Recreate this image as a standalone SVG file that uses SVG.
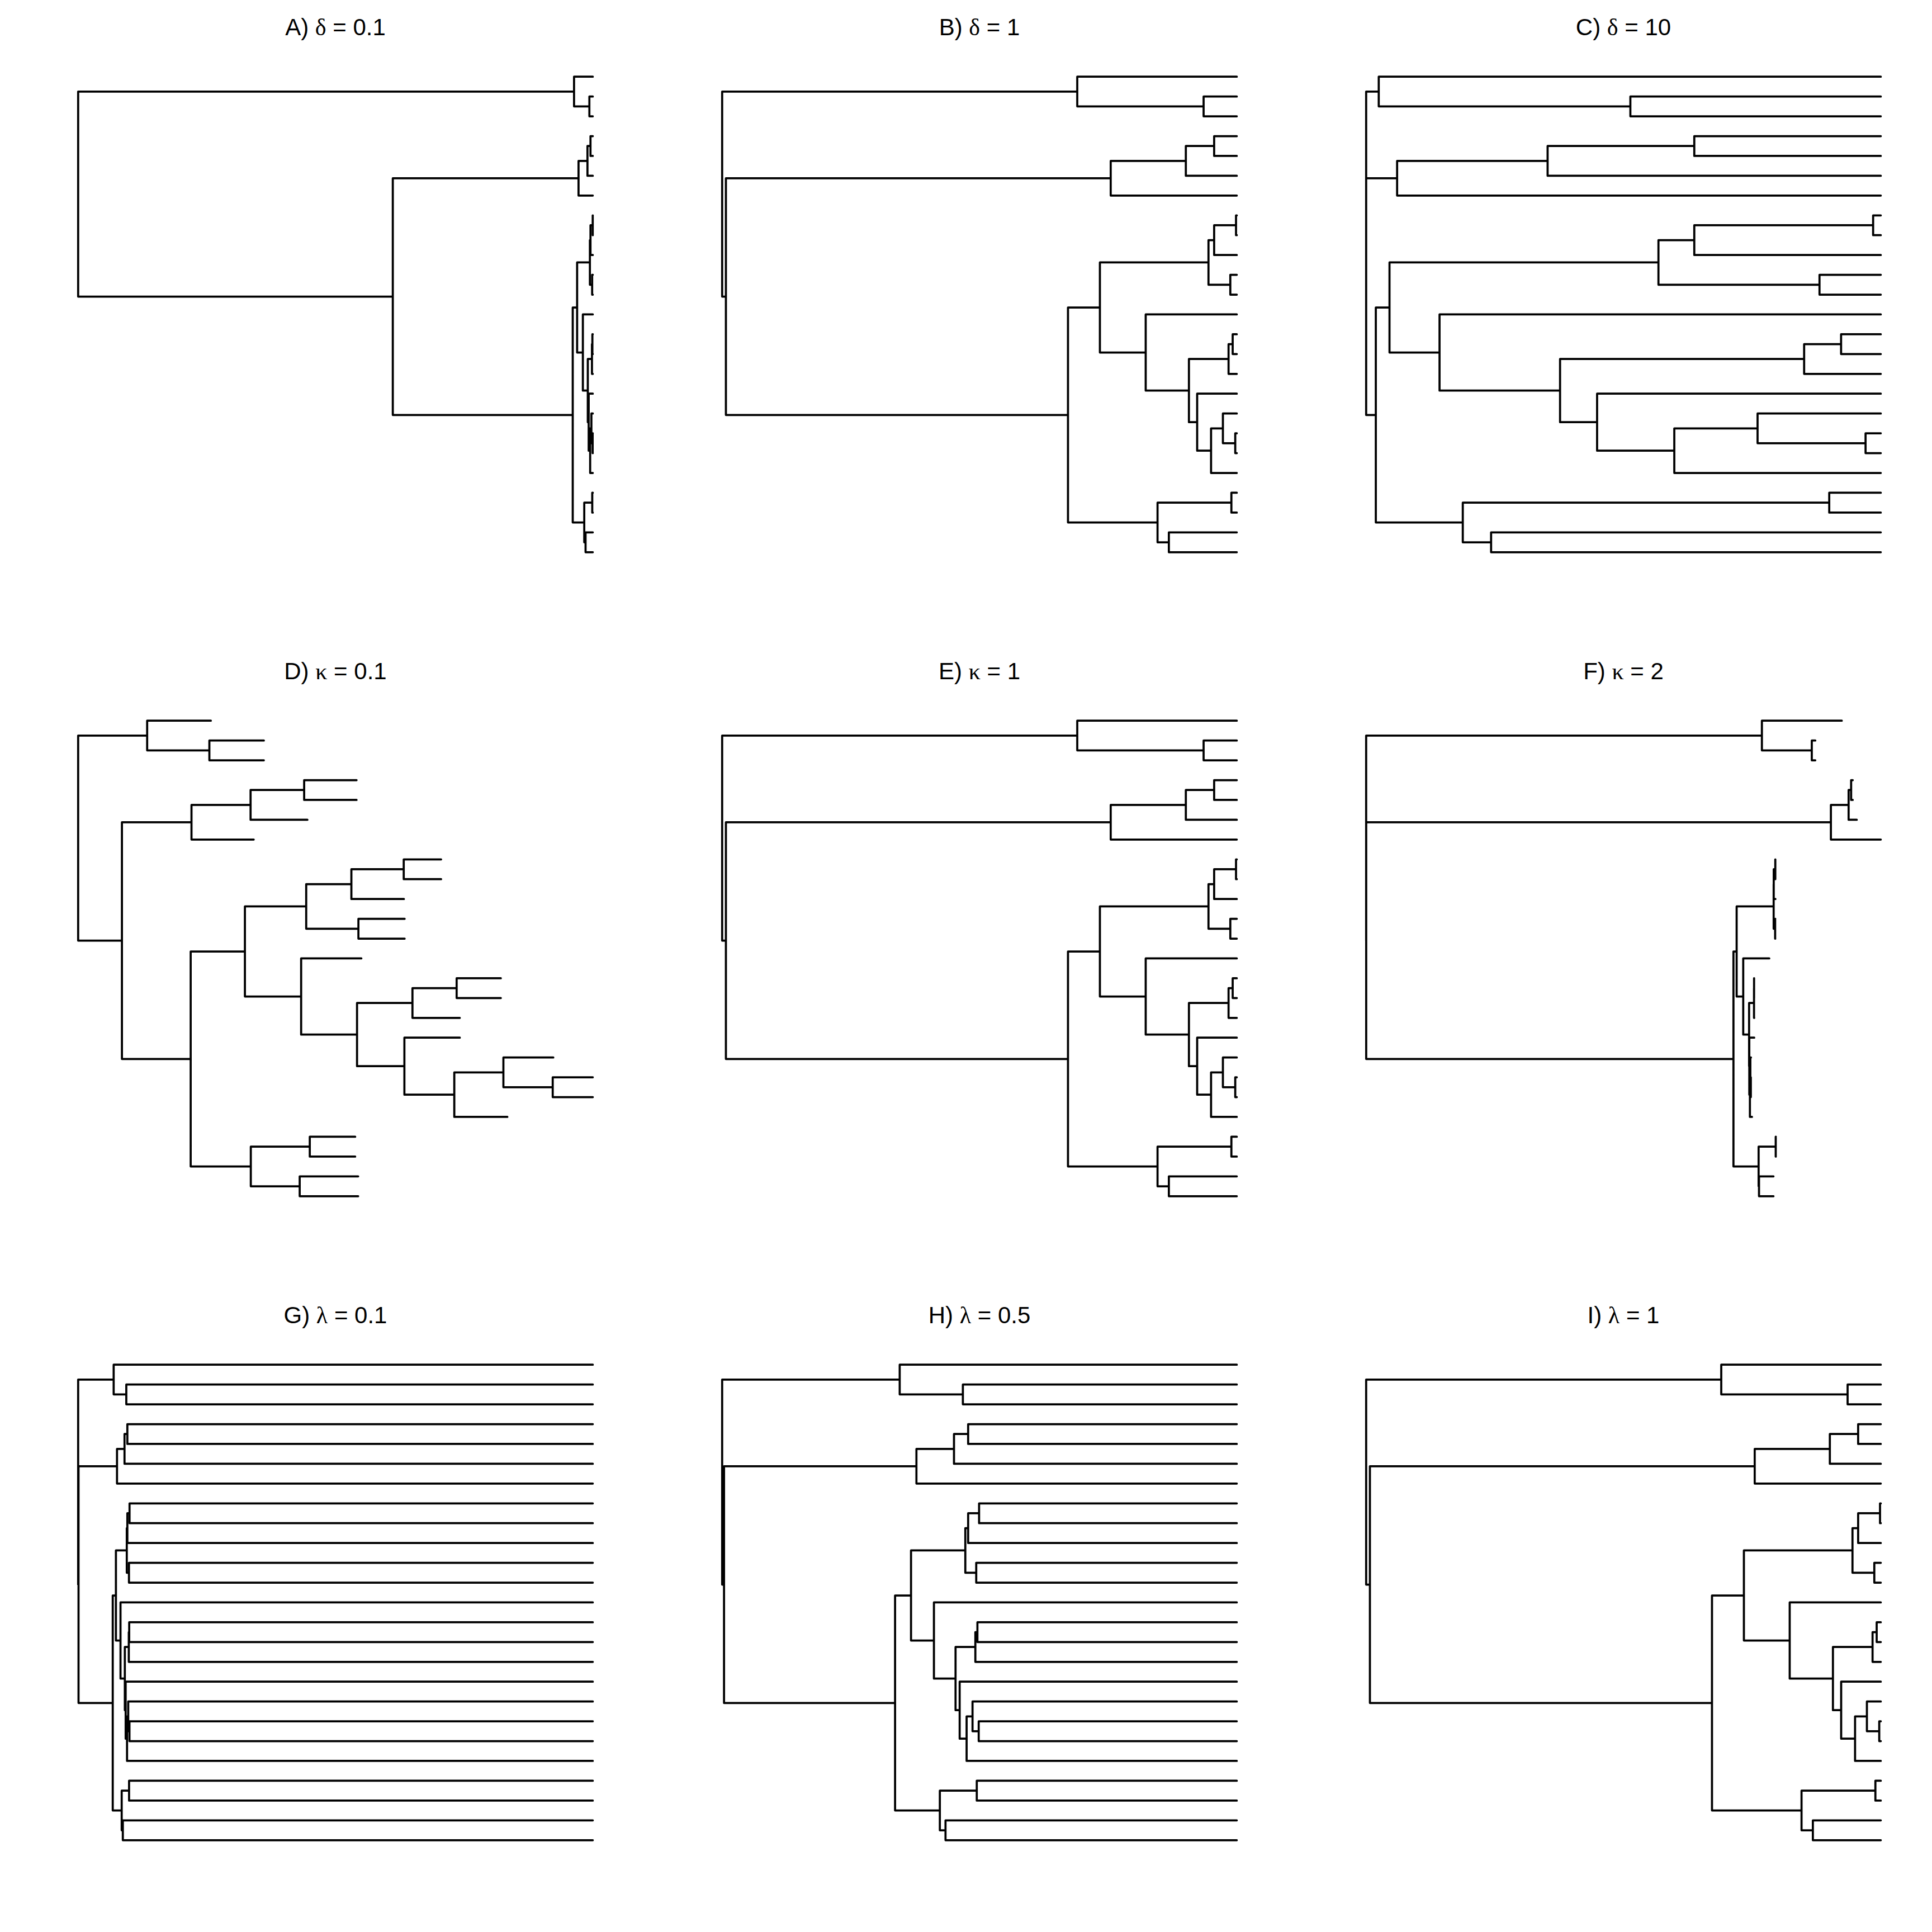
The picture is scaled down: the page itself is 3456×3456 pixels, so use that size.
<svg xmlns="http://www.w3.org/2000/svg" xmlns:xlink="http://www.w3.org/1999/xlink" width="3456" height="3456" viewBox="0 0 3456 3456">
<style>
.t{font-family:"Liberation Sans",Arial,sans-serif;font-size:42px;fill:#000;text-anchor:middle}
.g{font-family:"Liberation Serif","Times New Roman",serif}
.tree{fill:none;stroke:#000;stroke-width:3.75;stroke-linecap:round;stroke-linejoin:round;vector-effect:non-scaling-stroke}
</style>
<defs>
<path id="orig" class="tree" d="M.690 .75H0V11.0996H.0073M.755 5.125H.0073V17.0742H.672M1 0H.69V1.5H.9355M1 1H.9355V2H1M.901 4.25H.755V6H1M.956 3.5H.901V5H1M1 3H.956V4H1M.734 11.6484H.672V22.5H.846M.945 9.375H.734V13.9219H.823M.956 8.25H.945V10.5H.9874M.9985 7.5H.956V9H1M1 7H.9985V8H1M1 10H.9874V11H1M1 12H.823V15.8438H.907M.984 14.25H.907V17.4375H.923M.992 13.5H.984V15H1M1 13H.992V14H1M1 16H.923V18.875H.95M.973 17.75H.95V20H1M1 17H.973V18.5H.997M1 18H.997V19H1M.9895 21.5H.846V23.5H.868M1 21H.9895V22H1M1 23H.868V24H1"/>
</defs>
<rect width="3456" height="3456" fill="#fff"/>

<g id="panelA">
<text class="t" x="600" y="62.7">A) <tspan class="g">δ</tspan> = 0.1</text>
<g id="edgesA" transform="translate(139.8,137.2) scale(920.6,35.44)">
<path class="tree" d="M.96357 .75H0V11.0996H.6114M.97229 5.125H.6114V17.0742H.96103M1 0H.96357V1.5H.99335M1 1H.99335V2H1M.98963 4.25H.97229V6H1M.99551 3.5H.98963V5H1M1 3H.99551V4H1M.96955 11.6484H.96103V22.5H.98341M.99436 9.375H.96955V13.9219H.98071M.9955 8.25H.99436V10.5H.99873M.99985 7.5H.9955V9H1M1 7H.99985V8H1M1 10H.99873V11H1M1 12H.98071V15.8438H.99029M.99839 14.25H.99029V17.4375H.99202M.9992 13.5H.99839V15H1M1 13H.9992V14H1M1 16H.99202V18.875H.99488M.99727 17.75H.99488V20H1M1 17H.99727V18.5H.9997M1 18H.9997V19H1M.99894 21.5H.98341V23.5H.98594M1 21H.99894V22H1M1 23H.98594V24H1"/>
</g>
</g>

<g id="panelB">
<text class="t" x="1752" y="62.7">B) <tspan class="g">δ</tspan> = 1</text>
<g id="edgesB"><use xlink:href="#orig" transform="translate(1291.8,137.2) scale(920.6,35.44)"/></g>
</g>

<g id="panelC">
<text class="t" x="2904" y="62.7">C) <tspan class="g">δ</tspan> = 10</text>
<g id="edgesC" transform="translate(2443.8,137.2) scale(920.6,35.44)">
<path class="tree" d="M.02446 .75H0V11.0996H0M.06016 5.125H0V17.0742H.01878M1 0H.02446V1.5H.5134M1 1H.5134V2H1M.35258 4.25H.06016V6H1M.6376 3.5H.35258V5H1M1 3H.6376V4H1M.04537 11.6484H.01878V22.5H.18777M.56797 9.375H.04537V13.9219H.14259M.6376 8.25H.56797V10.5H.88091M.9851 7.5H.6376V9H1M1 7H.9851V8H1M1 10H.88091V11H1M1 12H.14259V15.8438H.37677M.85104 14.25H.37677V17.4375H.44875M.92284 13.5H.85104V15H1M1 13H.92284V14H1M1 16H.44875V18.875H.59876M.76055 17.75H.59876V20H1M1 17H.76055V18.5H.9704M1 18H.9704V19H1M.89982 21.5H.18777V23.5H.24277M1 21H.89982V22H1M1 23H.24277V24H1"/>
</g>
</g>

<g id="panelD">
<text class="t" x="600" y="1214.7">D) <tspan class="g">κ</tspan> = 0.1</text>
<g id="edgesD" transform="translate(139.8,1289.2) scale(128.10,35.44)">
<path class="tree" d="M.96357 .75H0V11.0996H.6114M1.58274 5.125H.6114V17.0742H1.57138M1.85305 0H.96357V1.5H1.83236M2.5932 1H1.83236V2H2.5932M2.4077 4.25H1.58274V6H2.45153M3.15593 3.5H2.4077V5H3.20124M3.88765 3H3.15593V4H3.88765M2.32863 11.6484H1.57138V22.5H2.41094M3.18454 9.375H2.32863V13.9219H3.11377M3.8155 8.25H3.18454V10.5H3.91357M4.5464 7.5H3.8155V9H4.54889M5.06832 7H4.5464V8H5.06832M4.55926 10H3.91357V11H4.55926M3.95477 12H3.11377V15.8438H3.8944M4.66827 14.25H3.8944V17.4375H4.55572M5.2853 13.5H4.66827V15H5.32959M5.90233 13H5.2853V14H5.90233M5.32959 16H4.55572V18.875H5.25253M5.93826 17.75H5.25253V20H5.99366M6.63507 17H5.93826V18.5H6.62691M7.18653 18H6.62691V19H7.18653M3.23449 21.5H2.41094V23.5H3.09364M3.86852 21H3.23449V22H3.86852M3.91032 23H3.09364V24H3.91032"/>
</g>
</g>

<g id="panelE">
<text class="t" x="1752" y="1214.7">E) <tspan class="g">κ</tspan> = 1</text>
<g id="edgesE"><use xlink:href="#orig" transform="translate(1291.8,1289.2) scale(920.6,35.44)"/></g>
</g>

<g id="panelF">
<text class="t" x="2904" y="1214.7">F) <tspan class="g">κ</tspan> = 2</text>
<g id="edgesF" transform="translate(2443.8,1289.2) scale(1486.9,35.44)">
<path class="tree" d="M.4761 .75H0V11.0996H.0000533M.559109 5.125H.0000533V17.0742H.441873M.5722 0H.4761V1.5H.536125M.54035 1H.536125V2H.54035M.580425 4.25H.559109V6H.619134M.58345 3.5H.580425V5H.590226M.585386 3H.58345V4H.585386M.445717 11.6484H.441873V22.5H.472149M.490238 9.375H.445717V13.9219H.453638M.490338 8.25H.490238V10.5H.492036M.49223 7.5H.490338V9H.492363M.492232 7H.49223V8H.492232M.492195 10H.492036V11H.492195M.484967 12H.453638V15.8438H.460694M.466623 14.25H.460694V17.4375H.46095M.466687 13.5H.466623V15H.466879M.466751 13H.466687V14H.466751M.466879 16H.46095V18.875H.461679M.462208 17.75H.461679V20H.464179M.462937 17H.462208V18.5H.462784M.462793 18H.462784V19H.462793M.492741 21.5H.472149V23.5H.472633M.492851 21H.492741V22H.492851M.490057 23H.472633V24H.490057"/>
</g>
</g>

<g id="panelG">
<text class="t" x="600" y="2366.7">G) <tspan class="g">λ</tspan> = 0.1</text>
<g id="edgesG" transform="translate(139.8,2441.2) scale(920.6,35.44)">
<path class="tree" d="M.069 .75H0V11.0996H.00073M.0755 5.125H.00073V17.0742H.0672M1 0H.069V1.5H.09355M1 1H.09355V2H1M.0901 4.25H.0755V6H1M.0956 3.5H.0901V5H1M1 3H.0956V4H1M.0734 11.6484H.0672V22.5H.0846M.0945 9.375H.0734V13.9219H.0823M.0956 8.25H.0945V10.5H.09874M.09985 7.5H.0956V9H1M1 7H.09985V8H1M1 10H.09874V11H1M1 12H.0823V15.8438H.0907M.0984 14.25H.0907V17.4375H.0923M.0992 13.5H.0984V15H1M1 13H.0992V14H1M1 16H.0923V18.875H.095M.0973 17.75H.095V20H1M1 17H.0973V18.5H.0997M1 18H.0997V19H1M.09895 21.5H.0846V23.5H.0868M1 21H.09895V22H1M1 23H.0868V24H1"/>
</g>
</g>

<g id="panelH">
<text class="t" x="1752" y="2366.7">H) <tspan class="g">λ</tspan> = 0.5</text>
<g id="edgesH" transform="translate(1291.8,2441.2) scale(920.6,35.44)">
<path class="tree" d="M.345 .75H0V11.0996H.00365M.3775 5.125H.00365V17.0742H.336M1 0H.345V1.5H.46775M1 1H.46775V2H1M.4505 4.25H.3775V6H1M.478 3.5H.4505V5H1M1 3H.478V4H1M.367 11.6484H.336V22.5H.423M.4725 9.375H.367V13.9219H.4115M.478 8.25H.4725V10.5H.4937M.49925 7.5H.478V9H1M1 7H.49925V8H1M1 10H.4937V11H1M1 12H.4115V15.8438H.4535M.492 14.25H.4535V17.4375H.4615M.496 13.5H.492V15H1M1 13H.496V14H1M1 16H.4615V18.875H.475M.4865 17.75H.475V20H1M1 17H.4865V18.5H.4985M1 18H.4985V19H1M.49475 21.5H.423V23.5H.434M1 21H.49475V22H1M1 23H.434V24H1"/>
</g>
</g>

<g id="panelI">
<text class="t" x="2904" y="2366.7">I) <tspan class="g">λ</tspan> = 1</text>
<g id="edgesI"><use xlink:href="#orig" transform="translate(2443.8,2441.2) scale(920.6,35.44)"/></g>
</g>
</svg>
